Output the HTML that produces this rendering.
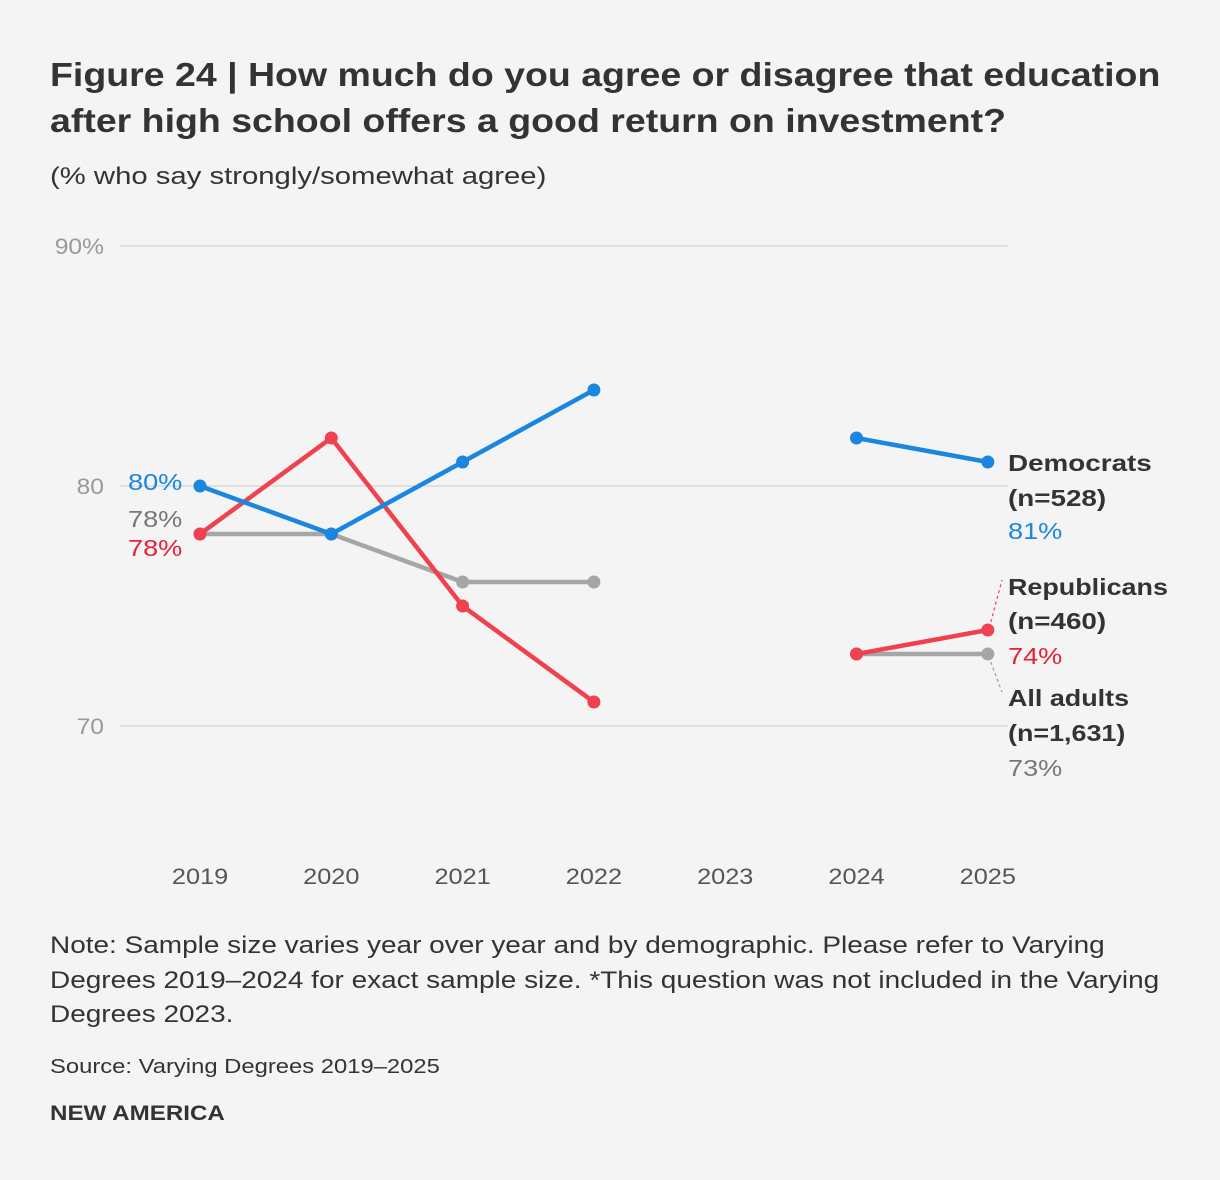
<!DOCTYPE html>
<html><head><meta charset="utf-8">
<style>
html,body{margin:0;padding:0;background:#f4f4f4;}
body{width:1220px;height:1180px;position:relative;font-family:"Liberation Sans",sans-serif;color:#333;overflow:hidden;}
.t{position:absolute;white-space:nowrap;transform-origin:0 0;}
</style></head><body>
<div class="t" style="left:50px;top:52px;font-size:33px;font-weight:bold;line-height:46px;color:#333;transform:scaleX(1.136);">Figure 24 | How much do you agree or disagree that education<br>after high school offers a good return on investment?</div>
<div class="t" style="left:50px;top:163px;font-size:24px;color:#333;transform:scaleX(1.22);">(% who say strongly/somewhat agree)</div>
<svg id="chart" width="1220" height="920" style="position:absolute;left:0;top:0;" xmlns="http://www.w3.org/2000/svg"></svg>
<div class="t" style="left:50px;top:929px;font-size:24px;line-height:34.5px;color:#333;transform:scaleX(1.165);">Note: Sample size varies year over year and by demographic. Please refer to Varying<br>Degrees 2019–2024 for exact sample size. *This question was not included in the Varying<br>Degrees 2023.</div>
<div class="t" style="left:50px;top:1056px;font-size:20px;color:#333;transform:scaleX(1.19);">Source: Varying Degrees 2019–2025</div>
<div class="t" style="left:50px;top:1102px;font-size:21px;font-weight:bold;color:#333;transform:scaleX(1.15);">NEW AMERICA</div>
<script>
const years=["2019","2020","2021","2022","2023","2024","2025"];
const democrats=[80,78,81,84,null,82,81];
const republicans=[78,82,75,71,null,73,74];
const allAdults=[78,78,76,76,null,73,73];
const yTicks=[90,80,70];
const yTickLabels=["90%","80","70"];
const svg=document.getElementById('chart');
const NS="http://www.w3.org/2000/svg";
const x=i=>200+i*131.3;
const y=v=>486-(v-80)*24;
function mk(tag,attrs,parent){const e=document.createElementNS(NS,tag);for(const k in attrs)e.setAttribute(k,attrs[k]);(parent||svg).appendChild(e);return e;}
yTicks.forEach((v,i)=>{
 const l=mk('line',{x1:120,x2:1008,y1:y(v),y2:y(v),stroke:'#d9d9d9','stroke-width':1.5});
 
 
 const t=mk('text',{transform:'translate(104,'+(y(v)+8)+') scale(1.12,1)','text-anchor':'end','font-size':22,fill:'#999','font-family':'Liberation Sans, sans-serif'});
 t.textContent=yTickLabels[i];
 
 
});
years.forEach((yr,i)=>{
 const t=mk('text',{transform:'translate('+x(i)+',884) scale(1.15,1)','text-anchor':'middle','font-size':22,fill:'#555','font-family':'Liberation Sans, sans-serif'});
 t.textContent=yr;
 
 
});
function series(data,color,name){
 const g=mk('g',{});
 
 
 let seg=[];
 const segs=[];
 data.forEach((v,i)=>{if(v==null){if(seg.length)segs.push(seg);seg=[];}else seg.push([x(i),y(v)]);});
 if(seg.length)segs.push(seg);
 segs.forEach(s=>{
  const p=mk('polyline',{points:s.map(q=>q.join(',')).join(' '),fill:'none',stroke:color,'stroke-width':4.5,'stroke-linejoin':'round'},g);
  
  
 });
 data.forEach((v,i)=>{if(v==null)return;
  const c=mk('circle',{cx:x(i),cy:y(v),r:6.5,fill:color},g);
  
  
 });
}
series(allAdults,'#a6a6a6','all-adults');
series(republicans,'#f0414e','republicans');
series(democrats,'#1a86e0','democrats');
function txt(s,xx,yy,color,bold,name,sx){
 const t=mk('text',{transform:'translate('+xx+','+yy+') scale('+(sx||1.18)+',1)','font-size':23,fill:color,'font-weight':bold?'bold':'normal','font-family':'Liberation Sans, sans-serif'});
 t.textContent=s;
 
 
}
txt(democrats[0]+'%',128,490,'#1a86e0',false,'democrats-start-label');
txt(allAdults[0]+'%',128,527,'#777',false,'all-adults-start-label');
txt(republicans[0]+'%',128,556,'#e8213a',false,'republicans-start-label');
const L=6;
txt('Democrats',1008,471,'#333',true,'democrats-legend-name',1.21);
txt('(n=528)',1008,506,'#333',true,'democrats-legend-n',1.21);
txt(democrats[L]+'%',1008,539,'#1a86e0',false,'democrats-end-label');
txt('Republicans',1008,595,'#333',true,'republicans-legend-name',1.17);
txt('(n=460)',1008,629,'#333',true,'republicans-legend-n',1.21);
txt(republicans[L]+'%',1008,664,'#e8213a',false,'republicans-end-label');
txt('All adults',1008,706,'#333',true,'all-adults-legend-name',1.17);
txt('(n=1,631)',1008,741,'#333',true,'all-adults-legend-n',1.17);
txt(allAdults[L]+'%',1008,776,'#777',false,'all-adults-end-label');
const c1=mk('line',{x1:x(L)+3,y1:y(republicans[L])-8,x2:1002,y2:580,stroke:'#f0414e','stroke-width':1.2,'stroke-dasharray':'3,3'});


const c2=mk('line',{x1:x(L)+3,y1:y(allAdults[L])+8,x2:1002,y2:692,stroke:'#999','stroke-width':1.2,'stroke-dasharray':'3,3'});


</script>
</body></html>
